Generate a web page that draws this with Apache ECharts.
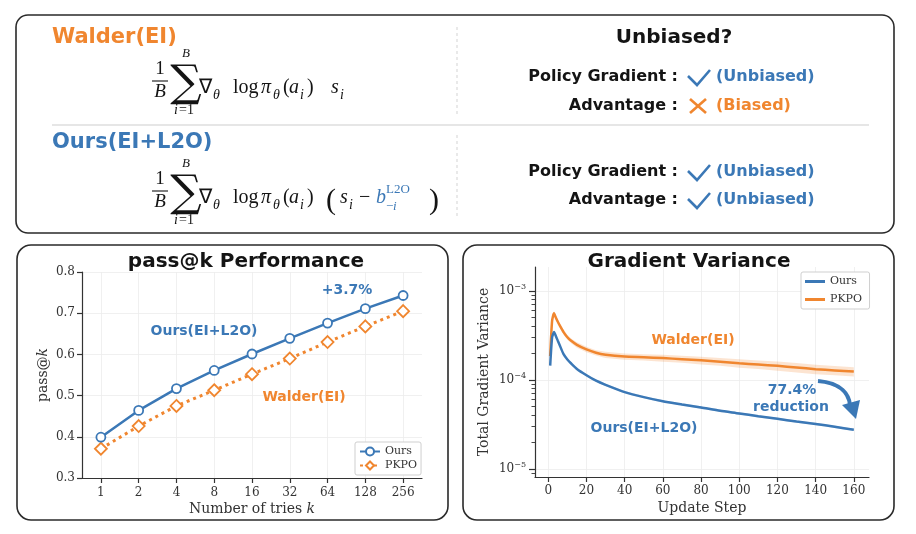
<!DOCTYPE html>
<html>
<head>
<meta charset="utf-8">
<script src="https://cdn.jsdelivr.net/npm/echarts@6/dist/echarts.min.js"></script>
<style>
  html, body { margin: 0; padding: 0; background: #fff; }
  #chart { width: 916px; height: 534px; }
</style>
</head>
<body>
<div id="chart"></div>
<script>
'use strict';

// pass@k panel
var tries = ['1', '2', '4', '8', '16', '32', '64', '128', '256'];
var passOurs = [0.399, 0.464, 0.517, 0.561, 0.601, 0.639, 0.676, 0.711, 0.743];
var passPkpo = [0.371, 0.426, 0.475, 0.513, 0.552, 0.590, 0.630, 0.668, 0.705];

// gradient variance panel
var steps = [1, 2, 3, 4, 5, 6, 8, 10, 12, 15, 20, 25, 30, 40, 50, 60, 70, 80, 90, 100, 110, 120, 130, 140, 150, 160];
var varOurs = [1.45e-4, 3.0e-4, 3.45e-4, 3.1e-4, 2.75e-4, 2.45e-4, 1.95e-4, 1.7e-4, 1.53e-4, 1.33e-4, 1.13e-4, 9.8e-5, 8.8e-5,
    7.3e-5, 6.4e-5, 5.75e-5, 5.3e-5, 4.9e-5, 4.5e-5, 4.2e-5, 3.9e-5, 3.65e-5, 3.4e-5, 3.2e-5, 2.97e-5, 2.75e-5];
var varPkpo = [1.85e-4, 4.6e-4, 5.6e-4, 5.0e-4, 4.5e-4, 4.1e-4, 3.45e-4, 3.02e-4, 2.75e-4, 2.48e-4, 2.2e-4, 2.02e-4, 1.92e-4,
    1.83e-4, 1.8e-4, 1.76e-4, 1.71e-4, 1.66e-4, 1.6e-4, 1.54e-4, 1.49e-4, 1.44e-4, 1.38e-4, 1.32e-4, 1.28e-4, 1.24e-4];
// half width of the shaded band, as a fraction of the value
var oursSpread = [0.03, 0.03, 0.03, 0.03, 0.03, 0.03, 0.03, 0.03, 0.03, 0.03, 0.03, 0.03, 0.03,
    0.03, 0.03, 0.03, 0.03, 0.03, 0.03, 0.03, 0.03, 0.03, 0.03, 0.03, 0.03, 0.03];
var pkpoSpread = [0.05, 0.06, 0.06, 0.06, 0.06, 0.06, 0.06, 0.06, 0.06, 0.07, 0.07, 0.07, 0.08,
    0.08, 0.08, 0.09, 0.09, 0.10, 0.10, 0.11, 0.11, 0.12, 0.12, 0.12, 0.12, 0.12];
var stepTicks = [0, 20, 40, 60, 80, 100, 120, 140, 160];
var decadeTicks = [1e-5, 1e-4, 1e-3];

var BLUE = '#3b78b6';
var ORANGE = '#f0862f';
var INK = '#141414';
var AXIS = '#333';
var GRIDC = '#ececec';
var SANS = 'DejaVu Sans';
var SERIF = 'DejaVu Serif';
var MATH = 'Liberation Serif';

var minorTicks = [9e-6];
[1e-5, 1e-4, 1e-3].forEach(function (d) {
    for (var m = 2; m <= 9; m ++) {
        if (d * m < 1.86e-3) minorTicks.push(d * m);
    }
});

function pairs(xs, ys) {
    return xs.map(function (x, i) { return [x, ys[i]]; });
}

// shaded band drawn as one polygon through the axis scales
function bandSeries(vals, spread, color, opacity) {
    var rows = steps.map(function (s, i) {
        return [s, vals[i] * (1 - spread[i]), vals[i] * (1 + spread[i])];
    });
    return {
        type: 'custom', xAxisIndex: 1, yAxisIndex: 1, silent: true, z: 1,
        encode: {x: 0, y: [1, 2]},
        data: rows,
        renderItem: function (params, api) {
            if (params.dataIndex !== 0) return;
            var upper = [], lower = [];
            rows.forEach(function (r) {
                upper.push(api.coord([r[0], r[2]]));
                lower.unshift(api.coord([r[0], r[1]]));
            });
            return {
                type: 'polygon',
                shape: {points: upper.concat(lower)},
                style: {fill: color, opacity: opacity}
            };
        }
    };
}

// text helpers
function label(x, y, str, size, color, align, weight) {
    return {
        type: 'text', x: x, y: y, z: 10,
        style: {
            text: str, fontFamily: SANS, fontSize: size, fontWeight: weight || 'bold',
            fill: color, align: align || 'left', verticalAlign: 'middle'
        }
    };
}
// math glyph placed on a baseline
function m(x, base, str, size, opt) {
    opt = opt || {};
    return {
        type: 'text', x: x, y: base - size * 0.34, z: 10,
        style: {
            text: str, fontFamily: opt.family || MATH, fontSize: size,
            fontStyle: opt.italic ? 'italic' : 'normal',
            fill: opt.color || INK, align: opt.align || 'left', verticalAlign: 'middle'
        }
    };
}
function formulaHead(dy) {
    return [
        m(160, 75 + dy, '1', 19, {align: 'center'}),
        {type: 'line', z: 10, shape: {x1: 152, y1: 81 + dy, x2: 168, y2: 81 + dy}, style: {stroke: INK, lineWidth: 1.1}},
        m(160, 98 + dy, 'B', 19, {align: 'center', italic: true}),
        m(186, 100 + dy, '\u2211', 44, {align: 'center', family: 'DejaVu Serif'}),
        m(186, 58 + dy, 'B', 13, {align: 'center', italic: true}),
        m(174, 115 + dy, 'i', 14, {italic: true}),
        m(179, 115 + dy, '=1', 14),
        m(199, 95 + dy, '\u2207', 20),
        m(213, 100 + dy, '\u03b8', 14, {italic: true}),
        m(233, 95 + dy, 'log', 20),
        m(261, 95 + dy, '\u03c0', 20, {italic: true}),
        m(273, 100 + dy, '\u03b8', 14, {italic: true}),
        m(283, 95 + dy, '(', 20),
        m(289, 95 + dy, 'a', 20, {italic: true}),
        m(300, 100 + dy, 'i', 14, {italic: true}),
        m(307, 95 + dy, ')', 20)
    ];
}

function check(x, y) {
    return {
        type: 'polyline', z: 10,
        shape: {points: [[x, y], [x + 9, y + 9], [x + 22, y - 6]]},
        style: {stroke: BLUE, lineWidth: 2.6, fill: null}
    };
}
function cross(x, y) {
    return [
        {type: 'line', z: 10, shape: {x1: x, y1: y - 7, x2: x + 16, y2: y + 7}, style: {stroke: ORANGE, lineWidth: 2.6}},
        {type: 'line', z: 10, shape: {x1: x + 16, y1: y - 7, x2: x, y2: y + 7}, style: {stroke: ORANGE, lineWidth: 2.6}}
    ];
}

var elements = [
    // panel frames
    {type: 'rect', shape: {x: 16, y: 15, width: 878, height: 218, r: 12}, style: {fill: null, stroke: '#2a2a2a', lineWidth: 1.6}},
    {type: 'rect', shape: {x: 17, y: 245, width: 431, height: 275, r: 14}, style: {fill: null, stroke: '#2a2a2a', lineWidth: 1.6}},
    {type: 'rect', shape: {x: 463, y: 245, width: 431, height: 275, r: 14}, style: {fill: null, stroke: '#2a2a2a', lineWidth: 1.6}},
    {type: 'line', shape: {x1: 52, y1: 125, x2: 869, y2: 125}, style: {stroke: '#dedede', lineWidth: 1.5}},
    {type: 'line', shape: {x1: 457, y1: 27, x2: 457, y2: 117}, style: {stroke: '#d4d4d4', lineWidth: 1, lineDash: [3, 3]}},
    {type: 'line', shape: {x1: 457, y1: 135, x2: 457, y2: 218}, style: {stroke: '#d4d4d4', lineWidth: 1, lineDash: [3, 3]}},

    // top left: estimators
    label(52, 38, 'Walder(EI)', 21, ORANGE),
    label(52, 143, 'Ours(EI+L2O)', 21, BLUE),
    m(331, 95, 's', 20, {italic: true}),
    m(340, 100, 'i', 14, {italic: true}),
    m(326, 211, '(', 30),
    m(340, 205, 's', 20, {italic: true}),
    m(349, 210, 'i', 14, {italic: true}),
    m(359, 205, '\u2212', 20),
    m(376, 205, 'b', 20, {italic: true, color: BLUE}),
    m(386, 194, 'L2O', 13, {color: BLUE}),
    m(386, 211, '\u2212', 13, {color: BLUE}),
    m(393, 211, 'i', 13, {italic: true, color: BLUE}),
    m(429, 211, ')', 30),

    // top right: unbiased?
    label(674, 38, 'Unbiased?', 20, INK, 'center'),
    label(678, 77, 'Policy Gradient :', 16, INK, 'right'),
    label(678, 106, 'Advantage :', 16, INK, 'right'),
    label(678, 172, 'Policy Gradient :', 16, INK, 'right'),
    label(678, 200, 'Advantage :', 16, INK, 'right'),
    check(688, 76), label(716, 77, '(Unbiased)', 16, BLUE),
    label(716, 106, '(Biased)', 16, ORANGE),
    check(688, 171), label(716, 172, '(Unbiased)', 16, BLUE),
    check(688, 199), label(716, 200, '(Unbiased)', 16, BLUE),

    // panel titles and annotations
    label(246, 262, 'pass@k Performance', 20, INK, 'center'),
    label(689, 262, 'Gradient Variance', 20, INK, 'center'),
    label(347, 290, '+3.7%', 14, BLUE, 'center'),
    label(204, 331, 'Ours(EI+L2O)', 14, BLUE, 'center'),
    label(304, 397, 'Walder(EI)', 14, ORANGE, 'center'),
    label(693, 340, 'Walder(EI)', 14, ORANGE, 'center'),
    label(792, 390, '77.4%', 14, BLUE, 'center'),
    label(791, 407, 'reduction', 14, BLUE, 'center'),
    label(644, 428, 'Ours(EI+L2O)', 14, BLUE, 'center'),
    {type: 'bezierCurve', z: 10, shape: {x1: 818, y1: 381, x2: 850, y2: 405, cpx1: 842, cpy1: 383, cpx2: 849, cpy2: 395},
        style: {stroke: BLUE, lineWidth: 4, fill: null}},
    {type: 'polygon', z: 10, shape: {points: [[842, 405], [860, 400], [856, 419]]}, style: {fill: BLUE}}
];
elements = elements.concat(formulaHead(0), formulaHead(110), cross(690, 106));

var axisLineStyle = {show: true, onZero: false, lineStyle: {color: AXIS, width: 1.2}};
var legendBase = {
    orient: 'vertical', itemWidth: 20,
    padding: [4, 4], borderColor: '#cfcfcf', borderWidth: 1, borderRadius: 2, backgroundColor: '#fff',
    textStyle: {fontFamily: SERIF, fontSize: 11, color: AXIS}
};

var option = {
    animation: false,
    backgroundColor: '#fff',
    graphic: {elements: elements},
    grid: [
        {left: 82, top: 272, width: 340, height: 206},
        {left: 535, top: 267, width: 334, height: 210}
    ],
    legend: [
        echarts.util.extend({
            left: 355, top: 442, itemGap: 3, itemHeight: 10,
            data: ['Ours', 'PKPO']
        }, legendBase),
        echarts.util.extend({
            left: 801, top: 272, itemGap: 7, itemHeight: 3,
            data: [{name: 'Ours ', icon: 'rect'}, {name: 'PKPO ', icon: 'rect'}]
        }, legendBase)
    ],
    xAxis: [
        {
            gridIndex: 0, type: 'category', data: tries,
            axisLine: axisLineStyle,
            axisTick: {show: true, alignWithLabel: true, length: 5, lineStyle: {color: AXIS, width: 1.2}},
            axisLabel: {margin: 9, fontFamily: SERIF, fontSize: 12, color: AXIS},
            splitLine: {show: true, alignWithLabel: true, lineStyle: {color: GRIDC, width: 0.8}},
            name: 'Number of tries {k|k}', nameLocation: 'middle', nameGap: 24,
            nameTextStyle: {fontFamily: SERIF, fontSize: 14, color: AXIS,
                rich: {k: {fontFamily: SERIF, fontSize: 14, fontStyle: 'italic', color: AXIS}}}
        },
        {
            gridIndex: 1, type: 'value', min: -6.95, max: 167.95,
            axisLine: axisLineStyle,
            axisTick: {show: true, length: 5, customValues: stepTicks, lineStyle: {color: AXIS, width: 1.2}},
            axisLabel: {margin: 8, customValues: stepTicks, fontFamily: SERIF, fontSize: 12, color: AXIS},
            splitLine: {show: true, lineStyle: {color: GRIDC, width: 0.8}},
            name: 'Update Step', nameLocation: 'middle', nameGap: 24,
            nameTextStyle: {fontFamily: SERIF, fontSize: 14, color: AXIS}
        }
    ],
    yAxis: [
        {
            gridIndex: 0, type: 'value', min: 0.3, max: 0.8, interval: 0.1,
            axisLine: axisLineStyle,
            axisTick: {show: true, length: 5, lineStyle: {color: AXIS, width: 1.2}},
            axisLabel: {margin: 7, fontFamily: SERIF, fontSize: 12, color: AXIS,
                formatter: function (v) { return v.toFixed(1); }},
            splitLine: {show: true, lineStyle: {color: GRIDC, width: 0.8}},
            name: 'pass@{k|k}', nameLocation: 'middle', nameGap: 32,
            nameTextStyle: {fontFamily: SERIF, fontSize: 14, color: AXIS,
                rich: {k: {fontFamily: SERIF, fontSize: 14, fontStyle: 'italic', color: AXIS}}}
        },
        {
            gridIndex: 1, type: 'log', logBase: 10, min: 8.1e-6, max: 1.86e-3, position: 'left',
            axisLine: axisLineStyle,
            axisTick: {show: true, length: 6, customValues: decadeTicks, lineStyle: {color: AXIS, width: 1.2}},
            axisLabel: {margin: 9, customValues: decadeTicks, color: AXIS,
                formatter: function (v) {
                    return '{b|10}{s|\u2212' + (-Math.round(Math.log10(v))) + '}';
                },
                rich: {
                    b: {fontFamily: SERIF, fontSize: 12, color: AXIS},
                    s: {fontFamily: SERIF, fontSize: 8, color: AXIS, padding: [0, 0, 8, 0]}
                }},
            splitLine: {show: true, lineStyle: {color: GRIDC, width: 0.8}},
            name: 'Total Gradient Variance', nameLocation: 'middle', nameGap: 44,
            nameTextStyle: {fontFamily: SERIF, fontSize: 14, color: AXIS}
        },
        {
            gridIndex: 1, type: 'log', logBase: 10, min: 8.1e-6, max: 1.86e-3, position: 'left',
            axisLine: {show: false, onZero: false},
            axisTick: {show: true, length: 3.5, customValues: minorTicks, lineStyle: {color: AXIS, width: 0.9}},
            axisLabel: {show: false},
            splitLine: {show: false}
        }
    ],
    series: [
        {
            name: 'Ours', type: 'line', xAxisIndex: 0, yAxisIndex: 0, data: passOurs,
            symbol: 'circle', symbolSize: 9, z: 4,
            lineStyle: {color: BLUE, width: 2.5},
            itemStyle: {color: '#fff', borderColor: BLUE, borderWidth: 1.8}
        },
        {
            name: 'PKPO', type: 'line', xAxisIndex: 0, yAxisIndex: 0, data: passPkpo,
            symbol: 'diamond', symbolSize: 12, z: 3,
            lineStyle: {color: ORANGE, width: 3, type: [3, 4]},
            itemStyle: {color: '#fff', borderColor: ORANGE, borderWidth: 1.8}
        },
        bandSeries(varPkpo, pkpoSpread, ORANGE, 0.22),
        bandSeries(varOurs, oursSpread, BLUE, 0.2),
        {
            name: 'Ours ', type: 'line', xAxisIndex: 1, yAxisIndex: 1, data: pairs(steps, varOurs),
            symbol: 'none', smooth: 0.2, z: 4, lineStyle: {color: BLUE, width: 2.5}, itemStyle: {color: BLUE}
        },
        {
            name: 'PKPO ', type: 'line', xAxisIndex: 1, yAxisIndex: 1, data: pairs(steps, varPkpo),
            symbol: 'none', smooth: 0.2, z: 3, lineStyle: {color: ORANGE, width: 2.5}, itemStyle: {color: ORANGE}
        }
    ]
};

var chart = echarts.init(document.getElementById('chart'), null, {renderer: 'canvas'});
chart.setOption(option);
</script>
</body>
</html>
